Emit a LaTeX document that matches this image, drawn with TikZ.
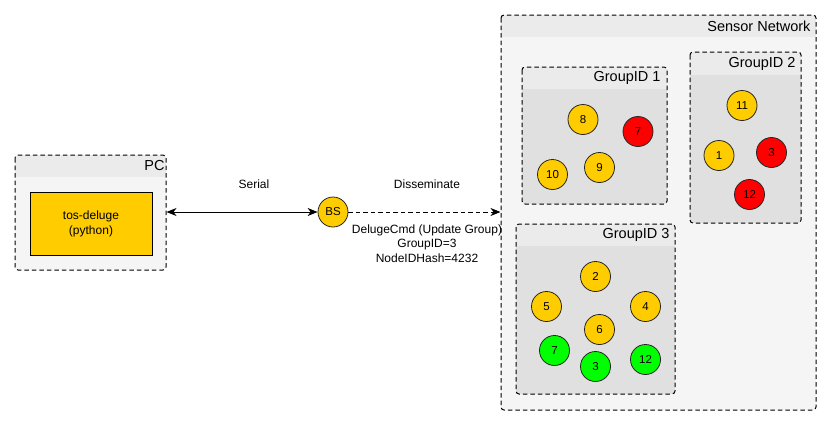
\documentclass[tikz,border=0pt]{standalone}
\usepackage{fontspec}
\setmainfont{Liberation Sans}
\usetikzlibrary{arrows.meta,fit}
\definecolor{hdr}{HTML}{EBEBEB}
\definecolor{outerbody}{HTML}{F5F5F5}
\definecolor{groupbody}{HTML}{E0E0E0}
\definecolor{yel}{HTML}{FFCC00}
\definecolor{redn}{HTML}{FF0000}
\definecolor{grn}{HTML}{00FF00}
\newcommand\mkswim[9]{%
  \path (#2,#3) coordinate (#1-nw) (#4,#5) coordinate (#1-se);
  \node[fit=(#1-nw)(#1-se), inner sep=0pt, draw=none] (#1) {};
  \begin{scope}
    \clip[rounded corners=3pt] (#1-nw) rectangle (#1-se);
    \fill[#8] (#1-nw) rectangle (#1-se);
    \fill[hdr] (#1-nw) rectangle (#4,#6);
  \end{scope}
  \draw[swimborder] (#1-nw) rectangle (#1-se);
  \node[swimlabel, anchor=east] (#1-label) at (#4-#9,{(#3+#6)/2}) {#7};
}
\tikzset{
  dashline/.style={dash pattern=on 4.5pt off 3pt},
  swimborder/.style={dashline, rounded corners=3pt, line width=1pt, draw=black},
  swimlabel/.style={inner sep=0pt, font=\fontsize{14.5}{16}\selectfont},
  txt/.style={inner sep=0pt, font=\fontsize{12}{14}\selectfont, align=center},
  mote/.style={circle, draw=black!85, line width=0.8pt, minimum size=30pt, inner sep=0pt, font=\fontsize{11.5}{13}\selectfont},
  ymote/.style={mote, fill=yel},
  rmote/.style={mote, fill=redn},
  gmote/.style={mote, fill=grn},
}
\begin{document}
\begin{tikzpicture}[x=1pt, y=-1pt, line width=1pt, >={Stealth[length=10pt, width=8pt, inset=3pt]}]
\useasboundingbox (0,0) rectangle (831,426);
\fill[white] (0,0) rectangle (831,426);
% PC container
\mkswim{pc}{15}{155}{166}{270}{177}{PC}{outerbody}{1}
\node[draw=black, fill=yel, line width=1pt, minimum width=122pt, minimum height=63pt, inner sep=0pt, font=\fontsize{12}{15}\selectfont, align=center] (deluge) at (91,223.5) {tos-deluge\\(python)};
% Sensor network
\mkswim{sn}{501}{15}{816}{410}{37}{Sensor Network}{outerbody}{5}
\mkswim{g1}{522}{67}{667}{204}{89}{GroupID 1}{groupbody}{6}
\mkswim{g2}{690}{52}{801}{223}{75}{GroupID 2}{groupbody}{5}
\mkswim{g3}{516}{224}{675}{394}{246}{GroupID 3}{groupbody}{5}
% base station
\node[ymote] (bs) at (333,212) {BS};
% connectors
\draw[<->] (pc.east |- bs) -- (bs.west);
\draw[->, dashline] (bs.east) -- (sn.west |- bs);
\node[txt] (serial) at (254,184) {Serial};
\node[txt] (dissem) at (427,184) {Disseminate};
\node[txt, font=\fontsize{12}{14.3}\selectfont] (cmd) at (427,243.5) {DelugeCmd (Update Group)\\GroupID=3\\NodeIDHash=4232};
% group 1
\node[ymote] (g1n8) at (583,119.5) {8};
\node[rmote] (g1n7) at (638,131.5) {7};
\node[ymote] (g1n10) at (552.5,174.5) {10};
\node[ymote] (g1n9) at (599.5,167.5) {9};
% group 2
\node[ymote] (g2n11) at (742,105.5) {11};
\node[ymote] (g2n1) at (719,155.5) {1};
\node[rmote] (g2n3) at (771.5,152.5) {3};
\node[rmote] (g2n12) at (749.5,194.5) {12};
% group 3
\node[ymote] (g3n2) at (595.5,276.5) {2};
\node[ymote] (g3n5) at (546.5,306.5) {5};
\node[ymote] (g3n4) at (645.5,306.5) {4};
\node[ymote] (g3n6) at (599.5,329.5) {6};
\node[gmote] (g3n7) at (554.5,350.5) {7};
\node[gmote] (g3n3) at (595.5,366.5) {3};
\node[gmote] (g3n12) at (645.5,359.5) {12};
\end{tikzpicture}
\end{document}
